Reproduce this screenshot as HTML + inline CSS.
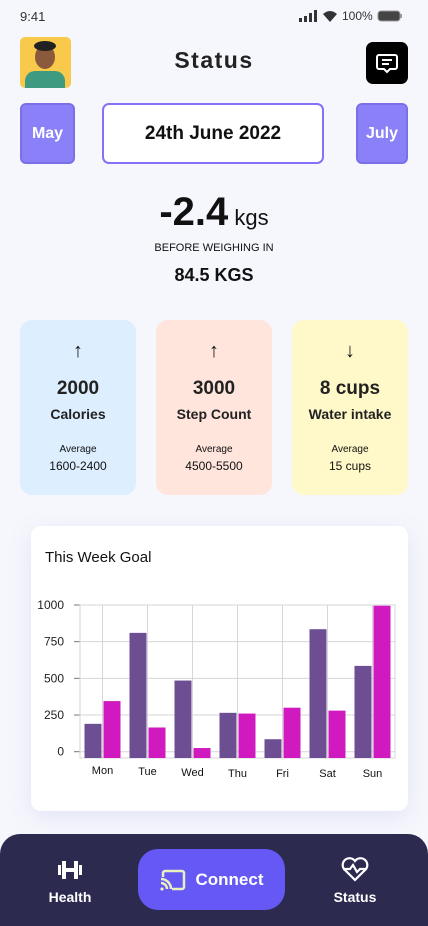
<!DOCTYPE html>
<html><head><meta charset="utf-8"><style>
*{box-sizing:border-box;margin:0;padding:0}
body{width:428px;height:926px;background:#f6f7fd;font-family:"Liberation Sans",sans-serif;color:#111;position:relative;overflow:hidden}
.abs{position:absolute}
.btn{position:absolute;background:#8a80f8;border:2px solid #7b6fe8;border-radius:6px;color:#fff;font-weight:bold;font-size:16px;display:flex;align-items:center;justify-content:center}
.card{position:absolute;top:320px;width:116px;height:175px;border-radius:12px;text-align:center}
.card .ar{position:absolute;top:20px;left:0;right:0;font-size:20px}
.card .v{position:absolute;top:58px;left:0;right:0;font-size:19px;font-weight:bold;color:#222}
.card .l{position:absolute;top:86px;left:0;right:0;font-size:14px;font-weight:bold;color:#222}
.card .a{position:absolute;top:124px;left:0;right:0;font-size:10px}
.card .r{position:absolute;top:139px;left:0;right:0;font-size:12px}
</style></head><body>
<div class="abs" style="left:20px;top:9px;font-size:13px;color:#333">9:41</div>
<div class="abs" style="left:298px;top:9px;font-size:12px;color:#333;display:flex;align-items:center;gap:4px">
<svg width="20" height="12"><rect x="1" y="8" width="3" height="4" fill="#333"/><rect x="6" y="6" width="3" height="6" fill="#333"/><rect x="11" y="3" width="3" height="9" fill="#333"/><rect x="16" y="0" width="3" height="12" fill="#333"/></svg>
<svg width="16" height="12"><path d="M1 4 Q8 -2 15 4 L8 12Z" fill="#333"/></svg>
<span>100%</span>
<svg width="26" height="12"><rect x="1" y="1" width="22" height="10" rx="3" fill="#444" stroke="#999"/><rect x="23" y="4" width="2" height="4" fill="#999"/></svg>
</div>
<div class="abs" style="left:20px;top:37px;width:51px;height:51px;border-radius:5px;background:#f8c94a;overflow:hidden">
<div class="abs" style="left:15px;top:8px;width:20px;height:24px;border-radius:50%;background:#8b5a3c"></div>
<div class="abs" style="left:14px;top:4px;width:22px;height:10px;border-radius:50%;background:#222"></div>
<div class="abs" style="left:5px;top:34px;width:40px;height:20px;border-radius:10px 10px 0 0;background:#3f9a82"></div>
</div>
<div class="abs" style="left:0;right:0;top:47px;text-align:center;font-size:23px;font-weight:bold;letter-spacing:1.5px;color:#222">Status</div>
<div class="abs" style="left:366px;top:42px;width:42px;height:42px;border-radius:7px;background:#000">
<svg width="42" height="42"><path d="M13 13 h16 a2 2 0 0 1 2 2 v10 a2 2 0 0 1 -2 2 h-5 l-3 3 l-3 -3 h-5 a2 2 0 0 1 -2 -2 v-10 a2 2 0 0 1 2 -2z" fill="none" stroke="#fff" stroke-width="2"/><line x1="16" y1="18" x2="26" y2="18" stroke="#fff" stroke-width="2"/><line x1="16" y1="22" x2="23" y2="22" stroke="#fff" stroke-width="2"/></svg>
</div>
<div class="btn" style="left:20px;top:103px;width:55px;height:61px">May</div>
<div class="abs" style="left:102px;top:103px;width:222px;height:61px;border:2px solid #8570f6;border-radius:7px;background:#fff;display:flex;align-items:center;justify-content:center;font-size:19px;font-weight:bold">24th June 2022</div>
<div class="btn" style="left:356px;top:103px;width:52px;height:61px">July</div>
<div class="abs" style="left:0;right:0;top:190px;text-align:center;white-space:nowrap"><span style="font-size:40px;font-weight:bold">-2.4</span><span style="font-size:22px"> kgs</span></div>
<div class="abs" style="left:0;right:0;top:242px;text-align:center;font-size:11px">BEFORE WEIGHING IN</div>
<div class="abs" style="left:0;right:0;top:265px;text-align:center;font-size:18px;font-weight:bold">84.5 KGS</div>
<div class="card" style="left:20px;background:#ddeeff"><div class="ar">↑</div><div class="v">2000</div><div class="l">Calories</div><div class="a">Average</div><div class="r">1600-2400</div></div>
<div class="card" style="left:156px;background:#ffe5dc"><div class="ar">↑</div><div class="v">3000</div><div class="l">Step Count</div><div class="a">Average</div><div class="r">4500-5500</div></div>
<div class="card" style="left:292px;background:#fff8c8"><div class="ar">↓</div><div class="v">8 cups</div><div class="l">Water intake</div><div class="a">Average</div><div class="r">15 cups</div></div>
<div class="abs" style="left:31px;top:526px;width:377px;height:285px;background:#fff;border-radius:10px;box-shadow:0 6px 24px rgba(120,120,200,0.15)"></div>
<div class="abs" style="left:45px;top:549px;font-size:15px">This Week Goal</div>
<svg class="abs" id="chart" style="left:0;top:0" width="428" height="926"></svg>
<div class="abs" style="left:0;top:834px;width:428px;height:92px;background:#2d2a50;border-radius:20px 20px 0 0"></div>
<div class="abs" style="left:35px;top:858px;width:70px;text-align:center;color:#fff;font-weight:bold;font-size:14px">
<svg width="30" height="24"><rect x="3" y="7" width="3" height="10" fill="#fff"/><rect x="7" y="3" width="4" height="18" fill="#fff"/><rect x="11" y="10" width="8" height="4" fill="#fff"/><rect x="19" y="3" width="4" height="18" fill="#fff"/><rect x="24" y="7" width="3" height="10" fill="#fff"/></svg>
<div style="margin-top:4px">Health</div></div>
<div class="abs" style="left:138px;top:849px;width:147px;height:61px;background:#6558f5;border-radius:20px;display:flex;align-items:center;justify-content:center;gap:10px;color:#fff;font-weight:bold;font-size:17px">
<svg width="26" height="22"><rect x="3" y="2" width="21" height="18" rx="2" fill="none" stroke="#e8f0c0" stroke-width="2.5"/><rect x="0" y="8" width="12" height="14" fill="#6558f5"/><path d="M1 10 a10 10 0 0 1 10 10 M1 14 a6 6 0 0 1 6 6" fill="none" stroke="#e8f0c0" stroke-width="2.5"/><circle cx="2" cy="20" r="1.6" fill="#e8f0c0"/></svg>
<span>Connect</span></div>
<div class="abs" style="left:320px;top:856px;width:70px;text-align:center;color:#fff;font-weight:bold;font-size:14px">
<svg width="30" height="26"><path d="M15 24 L4 13 A6.5 6.5 0 0 1 15 5 A6.5 6.5 0 0 1 26 13 Z" fill="none" stroke="#fff" stroke-width="2.2"/><path d="M3 13 h7 l3 -4 l4 7 l3 -3 h7" fill="none" stroke="#fff" stroke-width="2.2"/></svg>
<div style="margin-top:4px">Status</div></div>
<script>
const days=["Mon","Tue","Wed","Thu","Fri","Sat","Sun"];
const series1=[190,810,485,265,85,835,585];
const series2=[345,165,25,260,300,280,995];
const yTicks=[0,250,500,750,1000];
const svg=document.getElementById('chart');
const NS='http://www.w3.org/2000/svg';
const L=80,R=395,Y0=751.7,PX=0.1467,BASE=758;
const bw=(R-L)/days.length;
const y=v=>Y0-v*PX;
const x=i=>L+i*bw;
function mk(t,a){const e=document.createElementNS(NS,t);for(const k in a)e.setAttribute(k,a[k]);svg.appendChild(e);return e;}
let e;
yTicks.forEach(t=>{
 e=mk('line',{x1:L,x2:R,y1:y(t),y2:y(t),stroke:'#d6d6d6','stroke-width':1});
 
 
 e=mk('line',{x1:L-6,x2:L,y1:y(t),y2:y(t),stroke:'#777','stroke-width':1});
 
 
 e=mk('text',{x:L-16,y:y(t)+4,'text-anchor':'end','font-size':12,fill:'#222','font-family':'Liberation Sans, sans-serif'});
 e.textContent=t;
 
 
});
days.forEach((d,i)=>{
 const cx=x(i)+bw/2;
 e=mk('line',{x1:cx,x2:cx,y1:y(1000),y2:BASE,stroke:'#d6d6d6','stroke-width':1});
 
 
});
e=mk('rect',{x:L,y:y(1000),width:R-L,height:BASE-y(1000),fill:'none',stroke:'#d6d6d6'});


days.forEach((d,i)=>{
 const cx=x(i)+bw/2;
 e=mk('rect',{x:cx-18,y:y(series1[i]),width:17,height:BASE-y(series1[i]),fill:'#6e4e93'});
 
 
 e=mk('rect',{x:cx+1,y:y(series2[i]),width:17,height:BASE-y(series2[i]),fill:'#d01ac0'});
 
 
 e=mk('text',{x:cx,y:774+Math.min(i,3)*1,'text-anchor':'middle','font-size':11,fill:'#111','font-family':'Liberation Sans, sans-serif'});
 e.textContent=d;
 
 
});
</script>
</body></html>
